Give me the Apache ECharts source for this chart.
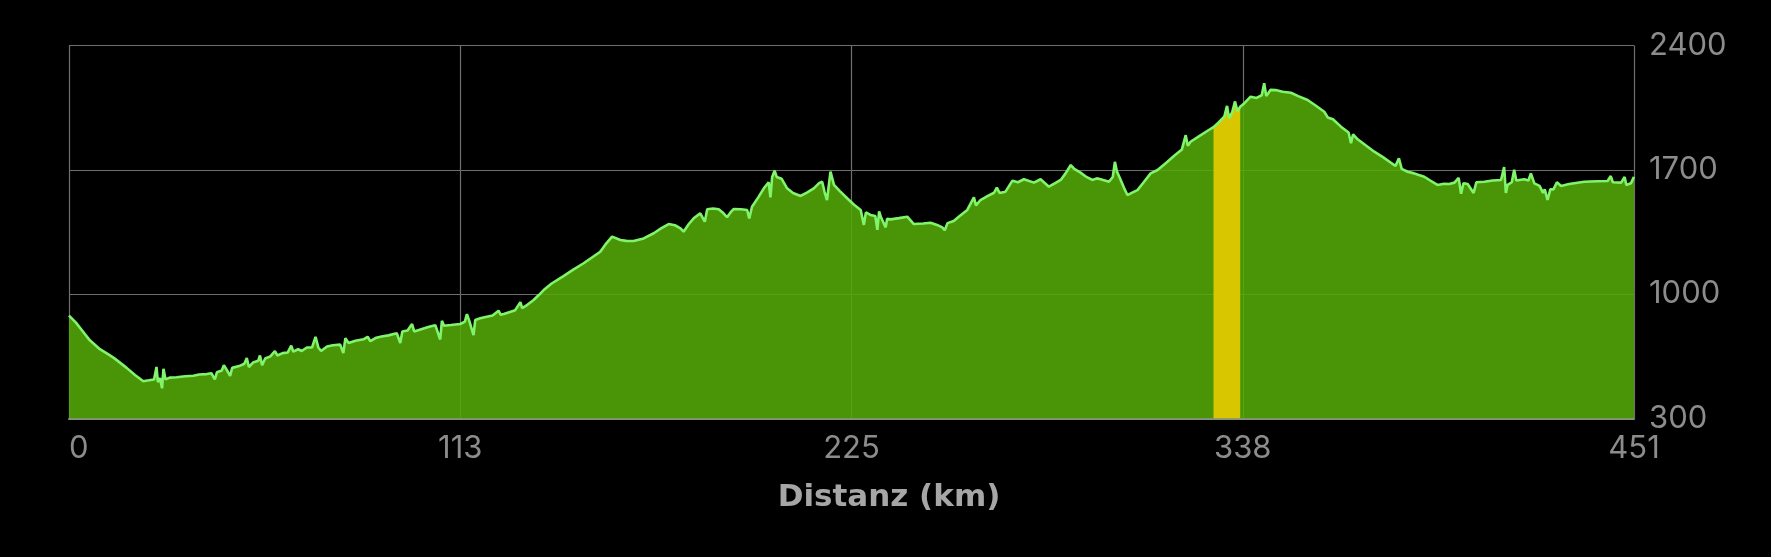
<!DOCTYPE html>
<html>
<head>
<meta charset="utf-8">
<script src="https://cdn.jsdelivr.net/npm/echarts@6/dist/echarts.min.js"></script>
<style>
html,body{margin:0;padding:0;background:#000;}
#chart{width:1771px;height:557px;}
</style>
</head>
<body>
<div id="chart"></div>
<script>
// Distance (km) along the route
const kmValues = [
0,2,4,6,8.9,11,13,16.6,19,21.4,23,24.5,25.2,25.6,26.2,26.8,27.2,27.8,29,31,33.5,35.8,37.5,39.7,41,42,42.6,44,44.6,45.4,46.4,47,49,50.5,51.2,51.8,53,54.5,55,55.6,56.5,58,59.3,60,61.5,63,64,64.6,66,67,68.5,70,71,71.8,72.6,74.3,76,78.1,79,79.6,80.5,82.5,84.8,86,86.8,88.5,90,92,94.4,95.4,96,97.5,98.8,99.4,101,103,104,105.5,106.9,107.4,108,110,112.7,114,114.6,115.3,116.5,117,118.4,120,122,123.7,124.3,125.2,127,128.5,130,130.5,132,133.8,135.3,136.7,139,142.4,145,148.2,150.5,153,154.5,156.4,158.8,160.5,162.6,165.5,168.4,170.5,172.7,174.5,176.1,177,178.5,179.9,181.8,183.1,183.8,185.5,187.1,188.5,189.5,190.5,191.4,193.5,195.3,195.9,196.7,198.5,200.1,201.5,202,202.5,203.2,203.8,205.2,206.8,208.5,210.7,212.5,214.5,216,216.9,217.6,218.3,219.3,220.3,222,224.1,226,228,228.9,229.5,230.8,232.2,232.8,233.3,233.9,235.2,235.6,236.6,239,241.4,243.3,246,248.1,250,251.5,252.2,253,254.8,256.5,258.7,260.6,261.2,262.5,264.5,266.4,267.2,268,269.7,271.7,273.3,275,277.9,279.8,282.2,284,285.6,287,288.5,289.5,291.3,293,294.7,296,297.1,299.5,300.6,301.2,301.8,302.5,302.9,303.8,304.8,306.2,307.7,309.5,311.5,313.5,316,318.2,320.5,321.6,322.2,323,325.5,327.9,329.6,331,332.7,333.5,334.1,335,335.8,336.5,337.3,338.5,340.3,342,343.5,344.2,344.8,346,347.5,349.5,351.9,354,356.7,359,361.5,362.5,364,366.3,368.5,369.2,369.8,371.1,373.5,375.9,378.5,380.7,382,383,383.8,385.5,387.4,388.5,390.3,392,394.1,396,397.5,399,400.2,400.9,401.6,402.8,404.5,405.3,407.6,410,412.4,413.3,413.8,414.3,415.5,416.2,416.8,419.1,420.3,421,422,423.5,424.5,425,425.8,426.6,427.5,428.5,429.7,432,436.4,440,443.1,444,444.6,447,448,448.5,449.8,450.7
];
// Elevation (m)
const elevValues = [
879,840,790,740,690,665,640,585,545,510,515,520,590,505,528,470,580,520,530,532,538,541,548,550,555,520,560,570,600,575,540,585,595,608,640,590,615,625,655,600,638,650,680,655,668,672,710,676,690,680,700,700,760,700,680,705,712,716,668,752,725,738,746,760,735,755,762,768,780,725,790,795,832,790,800,812,818,825,745,850,822,826,832,845,888,848,770,855,864,872,880,907,884,888,900,910,955,922,940,967,995,1023,1060,1102,1135,1174,1205,1239,1280,1324,1305,1300,1299,1314,1343,1370,1395,1388,1371,1352,1395,1427,1455,1408,1478,1482,1478,1455,1433,1460,1479,1478,1474,1427,1492,1545,1596,1630,1545,1660,1695,1660,1650,1596,1570,1553,1572,1596,1625,1633,1575,1530,1690,1615,1580,1540,1505,1474,1390,1460,1446,1440,1362,1466,1430,1376,1425,1421,1428,1436,1395,1398,1402,1390,1376,1360,1400,1412,1440,1474,1545,1500,1530,1552,1571,1600,1570,1577,1639,1630,1647,1628,1647,1605,1625,1643,1680,1727,1705,1684,1660,1643,1652,1647,1633,1660,1745,1690,1660,1652,1600,1558,1572,1586,1630,1680,1699,1740,1778,1815,1895,1835,1858,1890,1920,1940,1965,1999,2060,1990,2025,2085,2030,2055,2075,2112,2105,2120,2187,2115,2150,2149,2140,2134,2115,2093,2062,2027,1995,1985,1943,1910,1850,1900,1872,1837,1802,1770,1740,1722,1765,1705,1689,1680,1672,1661,1640,1615,1622,1620,1628,1655,1565,1625,1620,1570,1630,1633,1640,1643,1715,1570,1615,1630,1700,1640,1647,1640,1680,1624,1610,1570,1590,1530,1590,1590,1630,1609,1620,1633,1636,1637,1665,1630,1628,1660,1615,1624,1660
];
// Highlighted section (km)
const bandStart = 329.6;
const bandEnd = 337.3;
// Axis ticks
const xTickLabels = ['0','113','225','338','451'];
const xMax = 450.7;
const yTicks = [300, 1000, 1700, 2400];

const profile = kmValues.map((k, i) => [k, elevValues[i]]);
const band = profile.filter(p => p[0] >= bandStart && p[0] <= bandEnd);
const xInterval = xMax / (xTickLabels.length - 1);

const chart = echarts.init(document.getElementById('chart'));
chart.setOption({
  backgroundColor: '#000000',
  animation: false,
  grid: { left: 69, right: 137, top: 45.5, bottom: 138.5 },
  xAxis: {
    type: 'value',
    min: 0,
    max: xMax,
    interval: xInterval,
    axisLine: { show: true, lineStyle: { color: '#8a8f86', width: 2 } },
    axisTick: { show: false },
    splitLine: { show: true, lineStyle: { color: '#6e6e6e', width: 1.2 } },
    axisLabel: {
      color: '#8c8c8c',
      fontSize: 31,
      fontFamily: 'Inter',
      margin: 15,
      alignMinLabel: 'left',
      formatter: v => xTickLabels[Math.round(v / xInterval)]
    }
  },
  yAxis: {
    type: 'value',
    position: 'right',
    min: yTicks[0],
    max: yTicks[yTicks.length - 1],
    interval: yTicks[1] - yTicks[0],
    axisLine: { show: false },
    axisTick: { show: false },
    splitLine: { show: true, lineStyle: { color: '#6e6e6e', width: 1.2 } },
    axisLabel: {
      color: '#8c8c8c',
      fontSize: 31,
      fontFamily: 'Inter',
      margin: 15,
      align: 'left',
      formatter: v => String(v)
    }
  },
  graphic: [{
    type: 'text',
    x: 889,
    y: 498,
    style: {
      text: 'Distanz (km)',
      fill: '#a6a6a6',
      font: 'bold 31px "DejaVu Sans"',
      textAlign: 'center',
      textVerticalAlign: 'middle'
    }
  }],
  series: [
    {
      type: 'line',
      data: profile,
      symbol: 'none',
      lineStyle: { width: 0 },
      areaStyle: { color: 'rgb(84,168,8)', opacity: 0.88, origin: 'start' },
      z: 2
    },
    {
      type: 'line',
      data: band,
      symbol: 'none',
      lineStyle: { width: 0 },
      areaStyle: { color: 'rgb(231,203,0)', opacity: 0.9, origin: 'start' },
      z: 3
    },
    {
      type: 'line',
      data: profile,
      symbol: 'none',
      lineStyle: { width: 2.6, color: '#80f56c' },
      z: 4
    }
  ]
});
</script>
</body>
</html>
